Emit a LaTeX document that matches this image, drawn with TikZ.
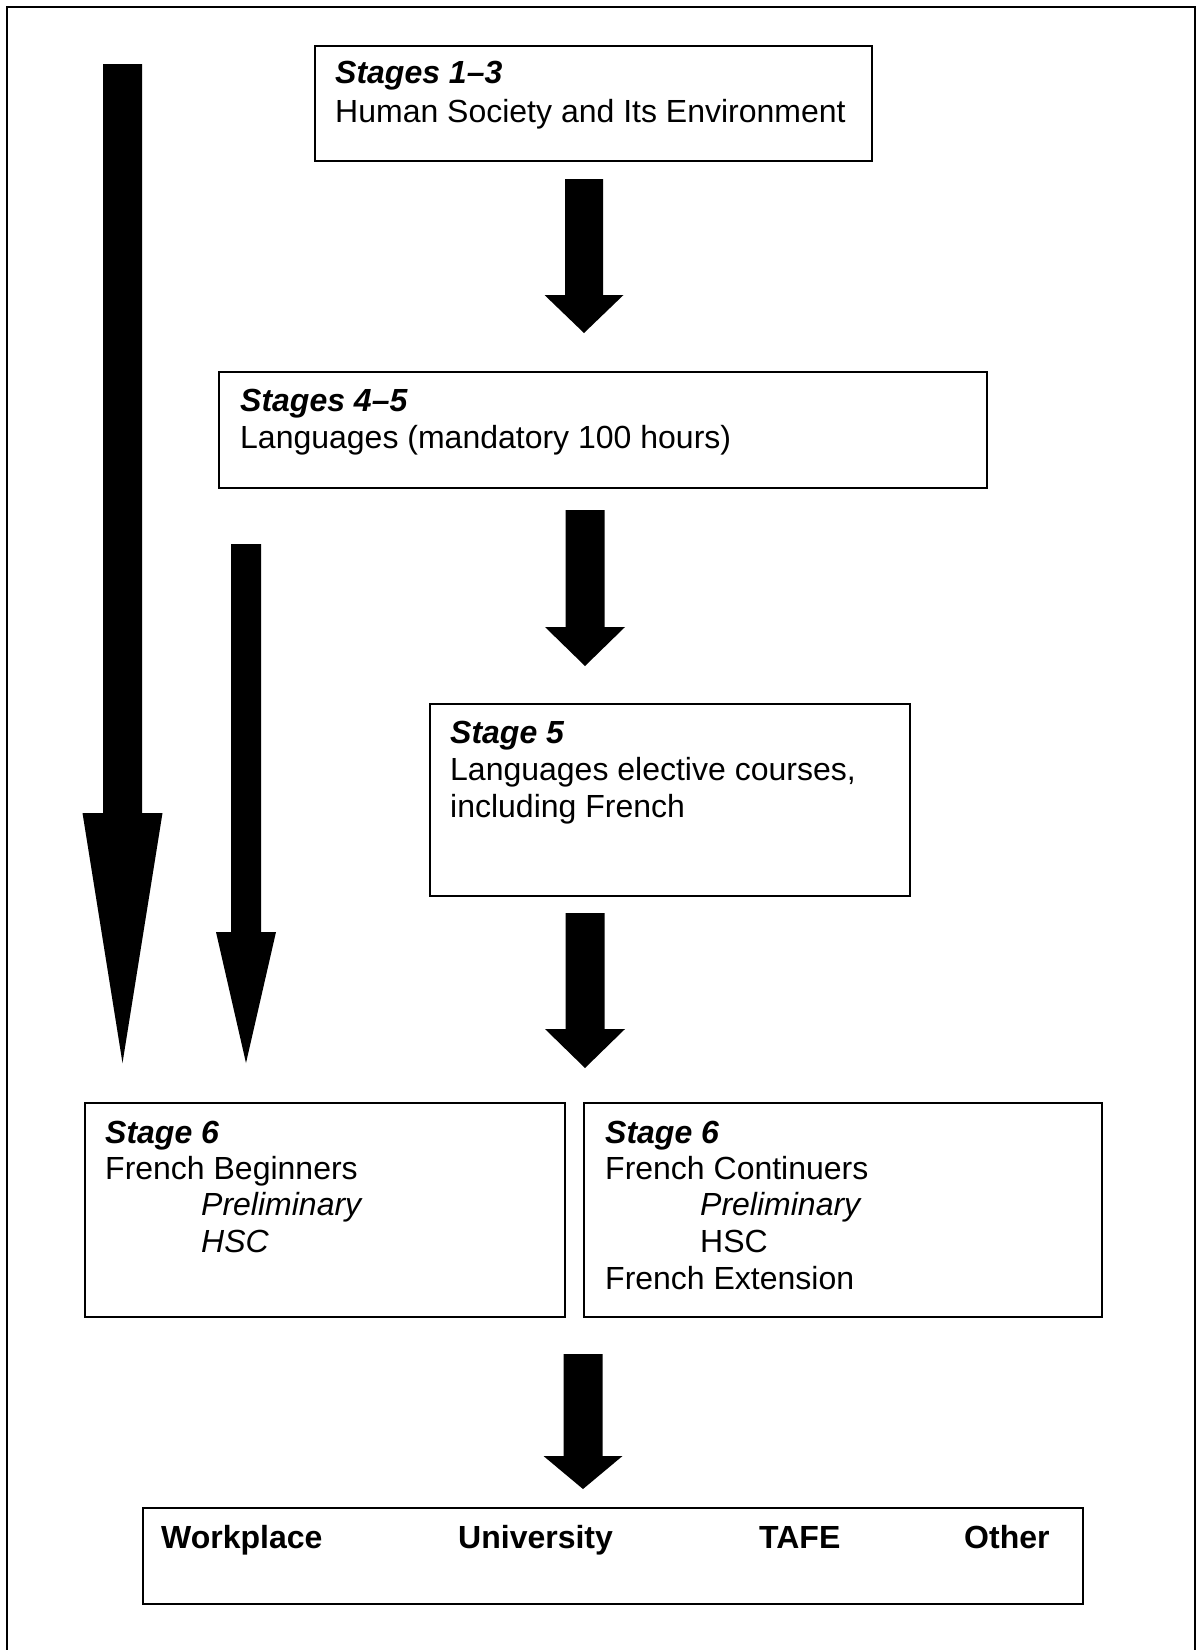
\documentclass[tikz,border=0pt]{standalone}
\usepackage{fontspec}
\setmainfont{Liberation Sans}
\newcommand\blockarrow[6]{% center x, top, head start, tip, shaft half-width, head half-width
  \fill (#1-#5,#2) -- (#1+#5,#2) -- (#1+#5,#3) -- (#1+#6,#3) -- (#1,#4) -- (#1-#6,#3) -- (#1-#5,#3) -- cycle;}
\begin{document}
\begin{tikzpicture}[x=1pt,y=-1pt,
  box/.style={draw, line width=1.8pt, inner sep=0pt, anchor=north west},
  txt/.style={anchor=base west, inner sep=0pt, font=\fontsize{32}{36}\selectfont},
  hd/.style={anchor=base west, inner sep=0pt, font=\fontsize{32}{36}\selectfont\bfseries\itshape},
  it/.style={anchor=base west, inner sep=0pt, font=\fontsize{32}{36}\selectfont\itshape},
  bd/.style={anchor=base west, inner sep=0pt, font=\fontsize{32}{36}\selectfont\bfseries}]
\useasboundingbox (0,0) rectangle (1197,1650);
\fill[white] (0,0) rectangle (1197,1650);
% outer frame
\draw[line width=2pt] (7,1650) -- (7,7) -- (1195,7) -- (1195,1650);

% boxes
\node[box, minimum width=557pt, minimum height=115pt] (b1) at (314,45) {};
\node[box, minimum width=768pt, minimum height=116pt] (b2) at (218,371) {};
\node[box, minimum width=480pt, minimum height=192pt] (b3) at (429,703) {};
\node[box, minimum width=480pt, minimum height=214pt] (b4) at (84,1102) {};
\node[box, minimum width=518pt, minimum height=214pt] (b5) at (583,1102) {};
\node[box, minimum width=940pt, minimum height=96pt] (b6) at (142,1507) {};

% texts
\node[hd]  (t1a) at (335,83)  {Stages 1–3};
\node[txt] (t1b) at (335,122) {Human Society and Its Environment};

\node[hd]  (t2a) at (240,411) {Stages 4–5};
\node[txt] (t2b) at (240,448) {Languages (mandatory 100 hours)};

\node[hd]  (t3a) at (450,743) {Stage 5};
\node[txt] (t3b) at (450,780) {Languages elective courses,};
\node[txt] (t3c) at (450,817) {including French};

\node[hd]  (t4a) at (105,1143) {Stage 6};
\node[txt] (t4b) at (105,1179) {French Beginners};
\node[it]  (t4c) at (201,1215) {Preliminary};
\node[it]  (t4d) at (201,1252) {HSC};

\node[hd]  (t5a) at (605,1143) {Stage 6};
\node[txt] (t5b) at (605,1179) {French Continuers};
\node[it]  (t5c) at (700,1215) {Preliminary};
\node[txt] (t5d) at (700,1252) {HSC};
\node[txt] (t5e) at (605,1289) {French Extension};

\node[bd] (w1) at (161,1548) {Workplace};
\node[bd] (w2) at (458,1548) {University};
\node[bd] (w3) at (759,1548) {TAFE};
\node[bd] (w4) at (964,1548) {Other};

% block arrows
\blockarrow{584}{179}{295}{333}{19}{39.5}
\blockarrow{585}{510}{627}{666}{19.5}{40}
\blockarrow{585}{913}{1029}{1068}{19.5}{40}
\blockarrow{583}{1354}{1456}{1489}{19.5}{39.5}
\blockarrow{122.5}{64}{813}{1063}{19.5}{40}
\blockarrow{246}{544}{932}{1063}{15}{30}
\end{tikzpicture}
\end{document}
